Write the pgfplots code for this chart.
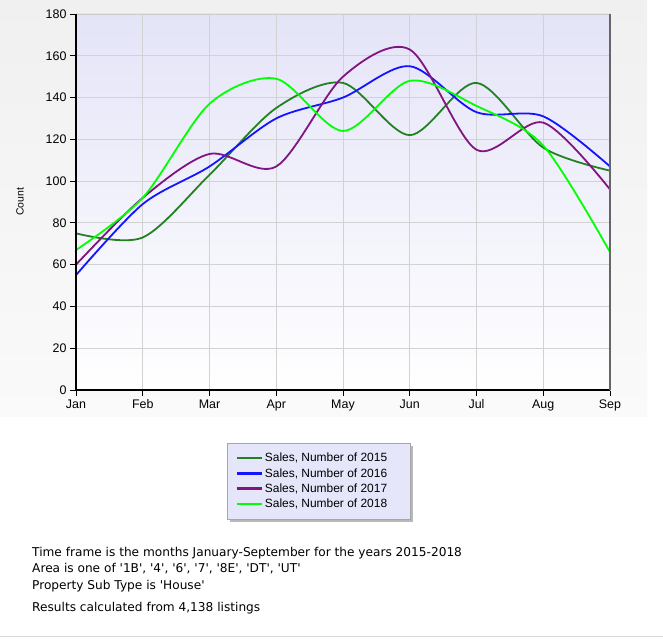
\documentclass[border=0pt]{standalone}
\usepackage{pgfplots}
\pgfplotsset{compat=1.18}
\usepackage{fontspec}
\setmainfont{Liberation Sans}
\newfontfamily\verd{DejaVu Sans}
\definecolor{c15}{RGB}{34,130,34}
\definecolor{c16}{RGB}{20,20,255}
\definecolor{c17}{RGB}{128,20,128}
\definecolor{c18}{RGB}{0,255,0}
\definecolor{lav}{RGB}{228,228,248}
\definecolor{legfill}{RGB}{230,230,250}
\pgfdeclarelayer{bg}
\pgfsetlayers{bg,main}
\begin{document}
\begin{tikzpicture}[x=1bp,y=1bp]
\useasboundingbox (0,0) rectangle (663,643);
\begin{pgfonlayer}{bg}
\fill[white] (0,0) rectangle (663,643);
\shade[top color={rgb,255:red,240;green,240;blue,240}, bottom color={rgb,255:red,250;green,250;blue,250}] (0,226) rectangle (647,643);
\draw[gray!30, line width=1bp] (0,6) -- (663,6);
\end{pgfonlayer}
\begin{axis}[
  at={(76bp,253bp)}, anchor=south west,
  scale only axis, width=534bp, height=376bp,
  xmin=0, xmax=8, ymin=0, ymax=180,
  xtick={0,...,8},
  xticklabels={Jan,Feb,Mar,Apr,May,Jun,Jul,Aug,Sep},
  ytick={0,20,...,180},
  xtick pos=left, ytick pos=left,
  tick align=outside, major tick length=6bp,
  tick style={black, line width=0.8bp},
  grid=major, grid style={gray!35, line width=0.8bp},
  axis line style={gray!40, line width=0.8bp},
  axis background/.style={shade, top color=lav, bottom color=white},
  tick label style={font=\fontsize{12.5}{14}\selectfont},
  /pgf/number format/assume math mode=true,
  ylabel={Count},
  ylabel style={font=\fontsize{10.5}{12}\selectfont, at={(axis description cs:-0.105,0.5)}, anchor=center},
  legend style={name=leg, at={(axis description cs:0.454,-0.141)}, anchor=north,
    fill=legfill, draw=gray!70, font=\fontsize{12}{15}\selectfont,
    inner xsep=9bp, inner ysep=8bp, row sep=1bp},
  legend cell align=left,
  legend image code/.code={\draw[#1] (0bp,0bp) -- (25bp,0bp);},
  legend image post style={line width=2.2bp, sharp plot},
  every axis plot/.append style={line width=1.8bp, smooth, tension=0.5, no marks},
  clip=false,
]
\addplot[c15] coordinates {(0,75) (1,73) (2,103) (3,135) (4,147) (5,122) (6,147) (7,116) (8,105)};
\addlegendentry{Sales, Number of 2015\hspace*{12bp}}
\addplot[c16] coordinates {(0,55) (1,89) (2,107) (3,130) (4,140) (5,155) (6,133) (7,131) (8,107)};
\addlegendentry{Sales, Number of 2016\hspace*{12bp}}
\addplot[c17] coordinates {(0,60) (1,92) (2,113) (3,107) (4,150) (5,163) (6,115) (7,128) (8,96)};
\addlegendentry{Sales, Number of 2017\hspace*{12bp}}
\addplot[c18] coordinates {(0,67) (1,92) (2,137) (3,149) (4,124) (5,148) (6,136) (7,117) (8,66)};
\addlegendentry{Sales, Number of 2018\hspace*{12bp}}
\draw[black, line width=1.4bp] (axis description cs:0,1) -- (axis description cs:0,0) -- (axis description cs:1,0);
\draw[gray!80!black, line width=1.2bp] (axis description cs:1,0) -- (axis description cs:1,1);
\end{axis}
\begin{pgfonlayer}{bg}
\fill[gray!55] ([shift={(3bp,-3bp)}]leg.south west) rectangle ([shift={(3bp,-3bp)}]leg.north east);
\end{pgfonlayer}
\begin{scope}[every node/.style={anchor=base west, inner sep=0pt, font=\verd\fontsize{12.2}{14}\selectfont}]
\node at (32,86) {Time frame is the months January-September for the years 2015-2018};
\node at (32,70) {Area is one of '1B', '4', '6', '7', '8E', 'DT', 'UT'};
\node at (32,53) {Property Sub Type is 'House'};
\node at (32,31) {Results calculated from 4,138 listings};
\end{scope}
\end{tikzpicture}
\end{document}
